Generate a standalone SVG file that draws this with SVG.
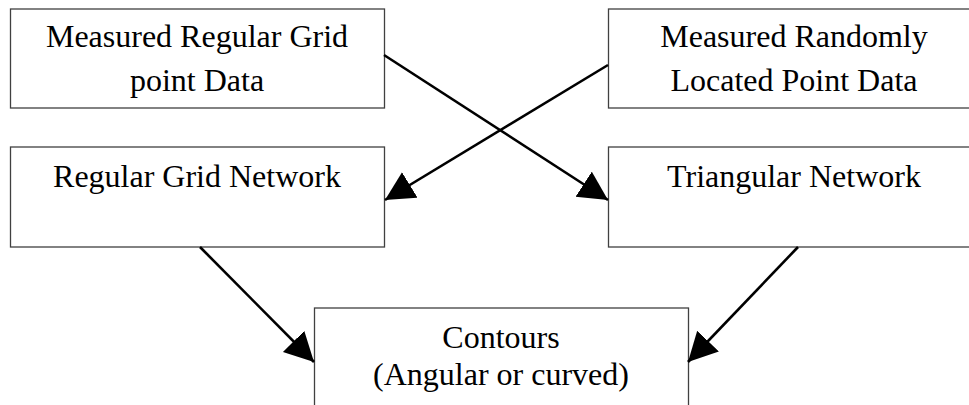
<svg xmlns="http://www.w3.org/2000/svg" width="969" height="405" viewBox="0 0 969 405">
<style>
.box{fill:#fff;stroke:#404040;stroke-width:1.3}
.t{font-family:"Liberation Serif","Times New Roman",serif;font-size:32px;fill:#000;text-anchor:middle}
.c{stroke:#000;stroke-width:2.6;fill:none;marker-end:url(#ah)}
</style>
<defs>
<marker id="ah" markerUnits="userSpaceOnUse" markerWidth="32" markerHeight="32" refX="29" refY="15" orient="auto" viewBox="0 0 32 32">
<path d="M0,0 L29,15 L0,30 Z" fill="#000"/>
</marker>
</defs>
<rect width="969" height="405" fill="#fff"/>
<g id="n1"><rect class="box" x="10.5" y="9" width="374" height="99"/><text class="t" x="197" y="47">Measured Regular Grid</text><text class="t" x="197" y="91">point Data</text></g>
<g id="n2"><rect class="box" x="608.5" y="9" width="374" height="99"/><text class="t" x="794" y="47">Measured Randomly</text><text class="t" x="794" y="91">Located Point Data</text></g>
<g id="n3"><rect class="box" x="10.5" y="147" width="374" height="100"/><text class="t" x="197" y="187">Regular Grid Network</text></g>
<g id="n4"><rect class="box" x="608.5" y="147" width="374" height="100"/><text class="t" x="794" y="187">Triangular Network</text></g>
<g id="n5"><rect class="box" x="314.5" y="308" width="374" height="120"/><text class="t" x="501" y="348">Contours</text><text class="t" x="501" y="385">(Angular or curved)</text></g>
<g id="connectors">
<line class="c" x1="384" y1="55" x2="608" y2="200"/>
<line class="c" x1="608" y1="65" x2="385" y2="200"/>
<line class="c" x1="200" y1="247" x2="314" y2="362"/>
<line class="c" x1="798" y1="247" x2="688" y2="362"/>
</g>
</svg>
